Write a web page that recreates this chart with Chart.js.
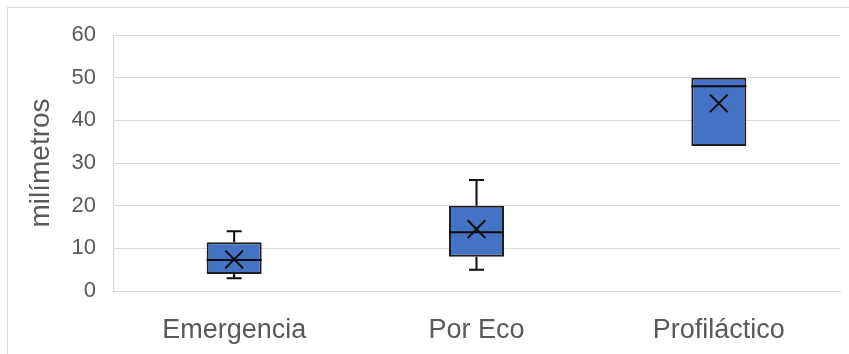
<!DOCTYPE html>
<html>
<head>
<meta charset="utf-8">
<script src="https://cdn.jsdelivr.net/npm/chart.js@4/dist/chart.umd.min.js"></script>
<style>
  html, body { margin: 0; padding: 0; background: #ffffff; }
  #wrap { position: relative; width: 849px; height: 354px; }
</style>
</head>
<body>
<div id="wrap"><canvas id="c" width="849" height="354"></canvas></div>
<script>
// Distribution of measurements (mm) per group
const categories = ['Emergencia', 'Por Eco', 'Profiláctico'];
const minValues    = [3, 5, 34];
const q1Values     = [4, 8, 34];
const medianValues = [7.25, 13.75, 48];
const q3Values     = [11.4, 20, 50];
const maxValues    = [14, 26, 50];
const meanValues   = [7.4, 14.5, 44];
const yTicks = [0, 10, 20, 30, 40, 50, 60];

const textColor = '#595959';
const gridColor = '#d9d9d9';
const inkColor = '#0d0d0d';

// Outer frame around the chart
const framePlugin = {
  id: 'frame',
  beforeDraw(chart) {
    const ctx = chart.ctx;
    ctx.save();
    ctx.strokeStyle = gridColor;
    ctx.lineWidth = 1;
    ctx.strokeRect(7.5, 7.5, 900, 400);
    ctx.restore();
  }
};

// Whiskers and median lines of each box
const boxPlugin = {
  id: 'boxDetails',
  afterDatasetsDraw(chart) {
    const ctx = chart.ctx;
    const xs = chart.scales.x, ys = chart.scales.y;
    const bars = chart.getDatasetMeta(1).data;
    ctx.save();
    ctx.strokeStyle = inkColor;
    ctx.lineWidth = 2;
    categories.forEach((c, i) => {
      const cx = xs.getPixelForValue(i);
      const half = bars[i].width / 2;
      const cap = 7.5;
      const yMin = ys.getPixelForValue(minValues[i]);
      const yQ1 = ys.getPixelForValue(q1Values[i]);
      const yMed = ys.getPixelForValue(medianValues[i]);
      const yQ3 = ys.getPixelForValue(q3Values[i]);
      const yMax = ys.getPixelForValue(maxValues[i]);
      ctx.beginPath();
      if (maxValues[i] > q3Values[i]) {
        ctx.moveTo(cx, yQ3); ctx.lineTo(cx, yMax);
        ctx.moveTo(cx - cap, yMax); ctx.lineTo(cx + cap, yMax);
      }
      if (minValues[i] < q1Values[i]) {
        ctx.moveTo(cx, yQ1); ctx.lineTo(cx, yMin);
        ctx.moveTo(cx - cap, yMin); ctx.lineTo(cx + cap, yMin);
      }
      ctx.moveTo(cx - half, yMed); ctx.lineTo(cx + half, yMed);
      ctx.stroke();
    });
    ctx.restore();
  }
};

new Chart(document.getElementById('c'), {
  type: 'bar',
  data: {
    labels: categories,
    datasets: [
      {
        type: 'line',
        label: 'Media',
        data: meanValues,
        showLine: false,
        pointStyle: 'crossRot',
        pointRadius: 12.5,
        pointBorderWidth: 2,
        borderColor: inkColor,
        backgroundColor: inkColor,
        order: 1
      },
      {
        label: 'Caja',
        data: categories.map((c, i) => [q1Values[i], q3Values[i]]),
        backgroundColor: '#4472C4',
        borderColor: '#1f1f1f',
        borderWidth: 2,
        borderSkipped: false,
        categoryPercentage: 1,
        barPercentage: 0.227,
        order: 2
      }
    ]
  },
  options: {
    responsive: false,
    animation: false,
    layout: { autoPadding: false, padding: { left: 0, right: 9, top: 35, bottom: 0 } },
    plugins: { legend: { display: false }, tooltip: { enabled: false } },
    scales: {
      x: {
        offset: true,
        grid: { display: false },
        border: { display: true, color: gridColor, width: 1 },
        ticks: {
          color: textColor,
          padding: 15,
          font: { family: 'Liberation Sans, Arial, sans-serif', size: 27 }
        },
        afterFit(scale) { scale.height = 63; }
      },
      y: {
        min: 0,
        max: 60,
        afterBuildTicks(scale) { scale.ticks = yTicks.map(v => ({ value: v })); },
        grid: { color: gridColor, lineWidth: 1, drawTicks: false },
        border: { display: true, color: gridColor, width: 1 },
        ticks: {
          color: textColor,
          padding: 17,
          font: { family: 'Liberation Sans, Arial, sans-serif', size: 22 }
        },
        title: {
          display: true,
          text: 'milímetros',
          color: textColor,
          padding: { top: 24, bottom: 0 },
          font: { family: 'Liberation Sans, Arial, sans-serif', size: 28 }
        },
        afterFit(scale) { scale.width = 113; }
      }
    }
  },
  plugins: [framePlugin, boxPlugin]
});
</script>
</body>
</html>
